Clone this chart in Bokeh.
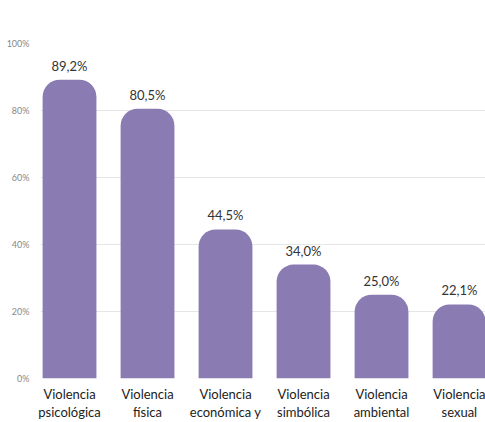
from bokeh.plotting import figure
from bokeh.models import Range1d, ColumnDataSource, FixedTicker
from bokeh.core.properties import value
from bokeh.embed import file_html
from bokeh.resources import INLINE

categories = ["Violencia\npsicológica", "Violencia\nfísica", "Violencia\neconómica y",
              "Violencia\nsimbólica", "Violencia\nambiental", "Violencia\nsexual"]
values = [89.2, 80.5, 44.5, 34.0, 25.0, 22.1]
labels = ["89,2%", "80,5%", "44,5%", "34,0%", "25,0%", "22,1%"]
y_ticks = [0, 20, 40, 60, 80, 100]

FONT = "Lato"
BAR = "#8a7bb3"

xs = list(range(len(categories)))
src = ColumnDataSource(dict(x=xs, top=values, lab=labels))

p = figure(width=485, height=422, output_backend="svg", toolbar_location=None,
           x_range=Range1d(-0.372, 5.333), y_range=Range1d(0, 100),
           min_border_left=40, min_border_right=0, min_border_top=43, min_border_bottom=41)
p.outline_line_color = None
p.background_fill_color = "white"

p.vbar(x="x", top="top", bottom=0, width=0.69, source=src, fill_color=BAR,
       line_color=None, border_radius=(17, 17, 0, 0))
p.text(x="x", y="top", text="lab", source=src, text_align="center", text_baseline="bottom",
       y_offset=-6, text_font=value(FONT), text_font_size="13px", text_color="#333333")

p.xgrid.grid_line_color = None
p.ygrid.grid_line_color = "#e6e6e6"
p.ygrid.ticker = FixedTicker(ticks=y_ticks)

p.yaxis.ticker = FixedTicker(ticks=y_ticks)
p.yaxis.major_label_overrides = {t: f"{t}%" for t in y_ticks}
p.yaxis.axis_line_color = None
p.yaxis.major_tick_line_color = None
p.yaxis.minor_tick_line_color = None
p.yaxis.major_label_text_font = FONT
p.yaxis.major_label_text_font_size = "9px"
p.yaxis.major_label_text_color = "#888888"
p.yaxis.major_label_standoff = 5

p.xaxis.ticker = FixedTicker(ticks=xs)
p.xaxis.major_label_overrides = {i: c for i, c in enumerate(categories)}
p.xaxis.axis_line_color = None
p.xaxis.major_tick_line_color = None
p.xaxis.major_tick_out = 0
p.xaxis.major_tick_in = 0
p.xaxis.minor_tick_line_color = None
p.xaxis.major_label_text_font = FONT
p.xaxis.major_label_text_font_size = "13px"
p.xaxis.major_label_text_line_height = 1.15
p.xaxis.major_label_text_color = "#222222"
p.xaxis.major_label_standoff = 7

open("out.html", "w").write(file_html(p, INLINE))
